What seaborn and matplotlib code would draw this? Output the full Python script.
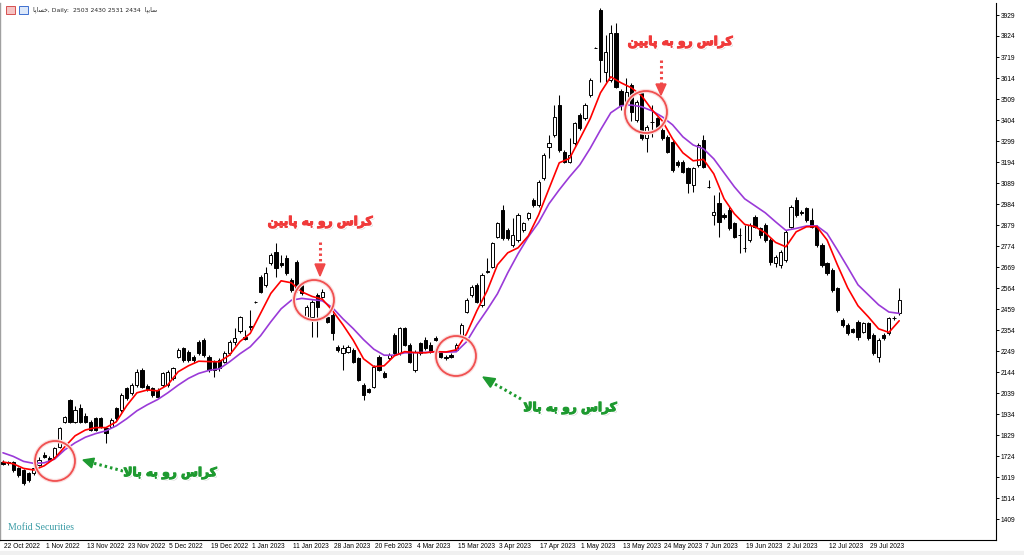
import matplotlib
matplotlib.use("Agg")
import matplotlib.pyplot as plt
import matplotlib.patheffects as pe
from matplotlib.patches import Ellipse, Polygon, Rectangle
from matplotlib.lines import Line2D
from matplotlib.transforms import ScaledTranslation
import numpy as np
import pandas as pd
import seaborn as sns

# daily bars (bar 0 = 22 Oct 2022)
opens = [1696, 1695, 1696, 1662, 1654, 1637, 1637, 1679, 1729, 1716, 1720, 1770, 1896, 2004, 1896, 1962, 1924, 1896, 1912, 1912,
         1862, 1870, 1962, 1954, 2062, 2037, 2079, 2154, 2074, 2062, 2054, 2079, 2079, 2112, 2221, 2262, 2246, 2221, 2296, 2304,
         2221, 2196, 2204, 2196, 2237, 2296, 2350, 2317, 2375, 2496, 2621, 2579, 2687, 2746, 2687, 2712, 2604, 2696, 2579, 2421,
         2421, 2529, 2521, 2421, 2429, 2271, 2237, 2246, 2254, 2212, 2079, 2057, 2071, 2221, 2141, 2212, 2329, 2237, 2362, 2279,
         2154, 2287, 2304, 2279, 2312, 2237, 2221, 2229, 2254, 2329, 2446, 2529, 2579, 2479, 2646, 2671, 2821, 2954, 2854, 2779,
         2804, 2854, 2912, 3004, 2979, 3112, 3271, 3329, 3479, 3246, 3196, 3287, 3429, 3412, 3529, 3766, 3954, 3646, 3604, 3837,
         3549, 3479, 3579, 3404, 3537, 3312, 3396, 3412, 3354, 3321, 3296, 3196, 3196, 3162, 3079, 3179, 3304, 3071, 2929, 2987,
         2929, 2954, 2887, 2829, 2762, 2804, 2921, 2862, 2879, 2804, 2687, 2679, 2704, 2871, 3004, 2946, 2962, 2904, 2871, 2779,
         2687, 2654, 2562, 2404, 2379, 2358, 2396, 2346, 2387, 2329, 2221, 2329, 2337, 2412, 2437]
highs = [1702, 1700, 1700, 1668, 1660, 1645, 1675, 1720, 1745, 1725, 1770, 1870, 1925, 2010, 1975, 1985, 1940, 1905, 1920, 1920,
         1870, 1912, 1970, 2040, 2070, 2090, 2160, 2162, 2085, 2070, 2062, 2145, 2155, 2170, 2262, 2270, 2255, 2230, 2305, 2315,
         2230, 2205, 2212, 2250, 2305, 2362, 2425, 2354, 2454, 2500, 2630, 2670, 2740, 2787, 2729, 2730, 2612, 2704, 2590, 2480,
         2504, 2540, 2560, 2430, 2437, 2279, 2279, 2279, 2262, 2220, 2087, 2065, 2180, 2230, 2150, 2237, 2337, 2370, 2370, 2287,
         2254, 2295, 2320, 2295, 2325, 2245, 2230, 2237, 2287, 2387, 2512, 2578, 2590, 2637, 2712, 2795, 2895, 2979, 2862, 2912,
         2937, 2895, 2945, 3012, 3104, 3237, 3329, 3479, 3529, 3254, 3312, 3395, 3437, 3487, 3612, 3770, 3962, 3829, 3879, 3887,
         3557, 3612, 3587, 3504, 3545, 3379, 3479, 3420, 3362, 3329, 3304, 3204, 3204, 3170, 3170, 3287, 3329, 3104, 3029, 3046,
         2937, 2971, 2895, 2862, 2879, 2887, 2929, 2870, 2887, 2812, 2729, 2754, 2854, 2979, 3021, 2954, 2970, 2962, 2879, 2787,
         2695, 2662, 2570, 2412, 2387, 2365, 2404, 2395, 2395, 2337, 2312, 2337, 2420, 2425, 2562]
lows = [1678, 1680, 1645, 1620, 1580, 1595, 1630, 1672, 1712, 1700, 1712, 1765, 1890, 1890, 1890, 1890, 1890, 1848, 1848, 1862,
        1787, 1862, 1905, 1945, 2005, 2030, 2070, 2062, 2050, 2020, 2012, 2070, 2070, 2105, 2212, 2195, 2195, 2190, 2230, 2220,
        2145, 2121, 2150, 2187, 2230, 2279, 2340, 2304, 2354, 2490, 2540, 2570, 2680, 2621, 2670, 2630, 2545, 2545, 2530, 2412,
        2321, 2321, 2512, 2390, 2304, 2246, 2154, 2240, 2190, 2100, 2004, 2040, 2065, 2148, 2115, 2205, 2230, 2230, 2272, 2190,
        2146, 2230, 2255, 2240, 2300, 2212, 2205, 2215, 2247, 2320, 2437, 2520, 2487, 2470, 2637, 2662, 2812, 2804, 2804, 2770,
        2795, 2845, 2904, 2970, 2970, 3104, 3212, 3320, 3246, 3187, 3187, 3279, 3354, 3404, 3520, 3762, 3596, 3596, 3596, 3562,
        3454, 3396, 3400, 3396, 3304, 3246, 3321, 3362, 3304, 3237, 3146, 3170, 3137, 3037, 3046, 3170, 3162, 3062, 2879, 2821,
        2910, 2854, 2812, 2737, 2746, 2795, 2862, 2812, 2795, 2679, 2670, 2662, 2695, 2862, 2920, 2930, 2895, 2862, 2770, 2670,
        2629, 2545, 2445, 2370, 2330, 2340, 2304, 2337, 2304, 2229, 2196, 2304, 2329, 2404, 2430]
closes = [1684, 1687, 1654, 1629, 1590, 1604, 1662, 1704, 1720, 1704, 1762, 1862, 1921, 1896, 1954, 1896, 1896, 1854, 1854, 1870,
          1837, 1904, 1912, 2029, 2012, 2079, 2146, 2071, 2057, 2029, 2021, 2137, 2146, 2162, 2254, 2204, 2204, 2204, 2237, 2229,
          2154, 2154, 2162, 2241, 2296, 2312, 2417, 2307, 2370, 2496, 2546, 2637, 2729, 2662, 2679, 2637, 2554, 2554, 2537, 2471,
          2496, 2471, 2546, 2396, 2337, 2254, 2262, 2271, 2196, 2104, 2029, 2046, 2171, 2154, 2121, 2229, 2237, 2362, 2279, 2196,
          2246, 2237, 2262, 2246, 2304, 2221, 2212, 2221, 2279, 2379, 2504, 2570, 2496, 2629, 2649, 2787, 2887, 2812, 2812, 2829,
          2929, 2887, 2937, 2979, 3096, 3229, 3288, 3421, 3254, 3196, 3229, 3387, 3362, 3479, 3604, 3766, 3704, 3746, 3837, 3571,
          3479, 3546, 3446, 3496, 3312, 3371, 3396, 3371, 3312, 3246, 3154, 3179, 3146, 3087, 3162, 3279, 3171, 3071, 2946, 2896,
          2917, 2862, 2821, 2829, 2762, 2879, 2871, 2829, 2804, 2696, 2721, 2746, 2846, 2971, 2929, 2937, 2904, 2871, 2779, 2679,
          2637, 2554, 2454, 2379, 2337, 2346, 2321, 2387, 2312, 2237, 2304, 2312, 2412, 2416, 2504]

# moving averages, read every second bar
ma_bars = list(range(0, 175, 2))
ma_fast = [1694, 1685, 1662, 1654, 1675, 1712, 1770, 1825, 1854, 1866, 1866, 1895, 1975, 2040, 2054, 2050, 2080, 2145, 2175, 2198,
           2196, 2195, 2229, 2296, 2337, 2437, 2537, 2600, 2590, 2545, 2522, 2508, 2450, 2380, 2303, 2210, 2171, 2175, 2225, 2246,
           2241, 2240, 2246, 2244, 2255, 2335, 2450, 2550, 2680, 2740, 2765, 2825, 2930, 3060, 3190, 3212, 3310, 3410, 3540, 3620,
           3590, 3565, 3525, 3455, 3400, 3310, 3240, 3200, 3207, 3135, 3010, 2935, 2882, 2871, 2840, 2792, 2770, 2845, 2870, 2871,
           2804, 2680, 2565, 2475, 2420, 2360, 2342, 2400]
ma_slow = [1740, 1722, 1697, 1687, 1690, 1708, 1755, 1790, 1818, 1836, 1850, 1875, 1910, 1950, 1980, 2006, 2040, 2078, 2112, 2137,
           2152, 2160, 2195, 2235, 2270, 2325, 2395, 2460, 2503, 2512, 2506, 2500, 2465, 2410, 2361, 2306, 2258, 2228, 2228, 2240,
           2241, 2242, 2246, 2243, 2245, 2295, 2380, 2455, 2535, 2640, 2735, 2820, 2892, 2985, 3055, 3120, 3180, 3262, 3354, 3440,
           3475, 3479, 3470, 3450, 3420, 3380, 3320, 3279, 3260, 3210, 3140, 3070, 3010, 2975, 2940, 2895, 2852, 2862, 2874, 2875,
           2837, 2754, 2668, 2580, 2530, 2480, 2444, 2437]

date_ticks = [0, 8, 16, 24, 32, 40, 48, 56, 64, 72, 80, 88, 96, 104, 112, 120, 128, 136, 144, 152, 160, 168]
date_labels = ["22 Oct 2022", "1 Nov 2022", "13 Nov 2022", "23 Nov 2022", "5 Dec 2022", "19 Dec 2022", "1 Jan 2023",
               "11 Jan 2023", "28 Jan 2023", "20 Feb 2023", "4 Mar 2023", "15 Mar 2023", "3 Apr 2023", "17 Apr 2023",
               "1 May 2023", "13 May 2023", "24 May 2023", "7 Jun 2023", "19 Jun 2023", "2 Jul 2023", "12 Jul 2023",
               "29 Jul 2023"]
price_ticks = [1409, 1514, 1619, 1724, 1829, 1934, 2039, 2144, 2249, 2354, 2459, 2564, 2669, 2774, 2879, 2984, 3089,
               3194, 3299, 3404, 3509, 3614, 3719, 3824, 3929]

# Persian labels in visual order (presentation forms, so they join without a shaper)
cross_down = "\uFEE6\uFBFF\uFBFE\uFE8E\uFB58 \uFEEA\uFE91 \uFEED\uFEAD \uFEB1\uFE8D\uFEAE\uFB90"  # کراس رو به پایین
cross_up = "\uFEFB\uFE8E\uFE91 \uFEEA\uFE91 \uFEED\uFEAD \uFEB1\uFE8D\uFEAE\uFB90"  # کراس رو به بالا
title = "\uFE8E\uFB58\uFE8E\uFEB4\uFEA7, Daily:  2503 2430 2531 2434  \uFE8E\uFB59\uFBFE\uFE8E\uFEB3"

sns.set_style("white")
plt.rcParams["font.family"] = ["Liberation Sans", "DejaVu Sans"]

W, H = 1024, 555
fig = plt.figure(figsize=(W / 100, H / 100), dpi=100)
ax = fig.add_axes([0, 15 / H, 995.5 / W, 537 / H])


def fp(x, y):
    # image pixel -> figure fraction
    return x / W, 1 - y / H


df = pd.DataFrame({"open": opens, "high": highs, "low": lows, "close": closes})
df["bar"] = df.index
rising = df["close"] >= df["open"]

ax.vlines(df["bar"], df["low"], df["high"], color="black", linewidth=0.75, zorder=2)
ax.bar(df["bar"], (df["close"] - df["open"]).abs(), bottom=df[["open", "close"]].min(axis=1),
       width=0.62, color=np.where(rising, "white", "black"), edgecolor="black", linewidth=0.7, zorder=3)

ma = pd.DataFrame({"bar": ma_bars, "fast": ma_fast, "slow": ma_slow})
sns.lineplot(data=ma, x="bar", y="slow", ax=ax, color="#9A3AD8", linewidth=1.2, zorder=4)
sns.lineplot(data=ma, x="bar", y="fast", ax=ax, color="#FF0000", linewidth=1.2, zorder=5)

ax.set_xlim(-0.58, 192.7)
ax.set_ylim(1304, 3989)
ax.set_xlabel("")
ax.set_ylabel("")

ax.yaxis.tick_right()
ax.set_yticks(price_ticks)
ax.set_yticklabels([str(v) for v in price_ticks])
ax.tick_params(axis="y", direction="out", length=2.5, width=0.7, pad=1.0, labelsize=4.8, colors="black")
ax.set_xticks(date_ticks)
ax.set_xticklabels(date_labels)
ax.tick_params(axis="x", direction="out", length=3, width=0.7, pad=-0.8, labelsize=4.8, colors="black")
for lbl in ax.get_xticklabels():
    lbl.set_ha("left")
    lbl.set_transform(lbl.get_transform() + ScaledTranslation(1.5 / 100, 0, fig.dpi_scale_trans))

for side in ["right", "bottom"]:
    ax.spines[side].set_color("black")
    ax.spines[side].set_linewidth(0.8)
ax.spines["left"].set_color("#A0A0A0")
ax.spines["left"].set_linewidth(1.0)
ax.spines["top"].set_visible(False)

# window strip under the date labels
fig.patches.append(Rectangle((0, 0), 1, 4 / H, transform=fig.transFigure, color="#F0F0F0", zorder=0))

# header
fig.patches.append(Rectangle(fp(6, 14), 9 / W, 8 / H, transform=fig.transFigure,
                             facecolor="#F6C4C4", edgecolor="#D65050", linewidth=0.7))
fig.patches.append(Rectangle(fp(19, 14), 9 / W, 8 / H, transform=fig.transFigure,
                             facecolor="#DCE8FA", edgecolor="#3F6FD0", linewidth=0.7))
fig.text(*fp(33, 10), title, fontsize=4.4, va="center", ha="left", family=["DejaVu Sans"])

fig.text(*fp(8, 527), "Mofid Securities", fontsize=7, color="#3A9CA6", va="center", ha="left",
         family=["Liberation Serif"])

# cross markers
for cx, cy, r in [(55, 461, 20), (314, 300, 20), (456, 356, 20), (646, 112, 21)]:
    fig.patches.append(Ellipse(fp(cx, cy), 2 * r / W, 2 * r / H, transform=fig.transFigure,
                               facecolor="none", edgecolor="#F05050", linewidth=1.3, zorder=10,
                               path_effects=[pe.Stroke(linewidth=3, foreground="#FBE0E0"), pe.Normal()]))


def glow(color):
    return [pe.withSimplePatchShadow(offset=(1.2, -1.2), shadow_rgbFace="#888888", alpha=0.45),
            pe.Stroke(linewidth=2.6, foreground="white"),
            pe.Stroke(linewidth=0.8, foreground=color), pe.Normal()]


for tx, ty in [(320, 222), (680, 42)]:
    fig.text(*fp(tx, ty), cross_down, fontsize=8.8, fontweight="bold", color="#F03A3A",
             ha="center", va="center", family=["DejaVu Sans"], path_effects=glow("#F03A3A"), zorder=11)
for tx, ty in [(170, 473), (570, 408)]:
    fig.text(*fp(tx, ty), cross_up, fontsize=8.8, fontweight="bold", color="#1E9A30",
             ha="center", va="center", family=["DejaVu Sans"], path_effects=glow("#1E9A30"), zorder=11)


def dotted_arrow(start, base, tip, half, color):
    x0, y0 = fp(*start)
    x1, y1 = fp(*base)
    fig.lines.append(Line2D([x0, x1], [y0, y1], transform=fig.transFigure, color=color,
                            linewidth=2.2, linestyle=(0, (0.8, 1.0)), zorder=11))
    bx, by = base
    tx, ty = tip
    dx, dy = tx - bx, ty - by
    n = np.hypot(dx, dy)
    px, py = -dy / n * half, dx / n * half
    pts = [fp(tx, ty), fp(bx + px, by + py), fp(bx - px, by - py)]
    fig.patches.append(Polygon(pts, closed=True, transform=fig.transFigure, color=color, zorder=11))


dotted_arrow((320, 242), (320, 264), (320, 276), 5, "#F04848")
dotted_arrow((661, 60), (661, 84), (661, 95), 5, "#F04848")
dotted_arrow((123, 471), (93, 463), (83, 460), 5, "#1E9A30")
dotted_arrow((521, 399), (493, 383), (483, 377), 5, "#1E9A30")

fig.savefig("out.png", dpi=100)
